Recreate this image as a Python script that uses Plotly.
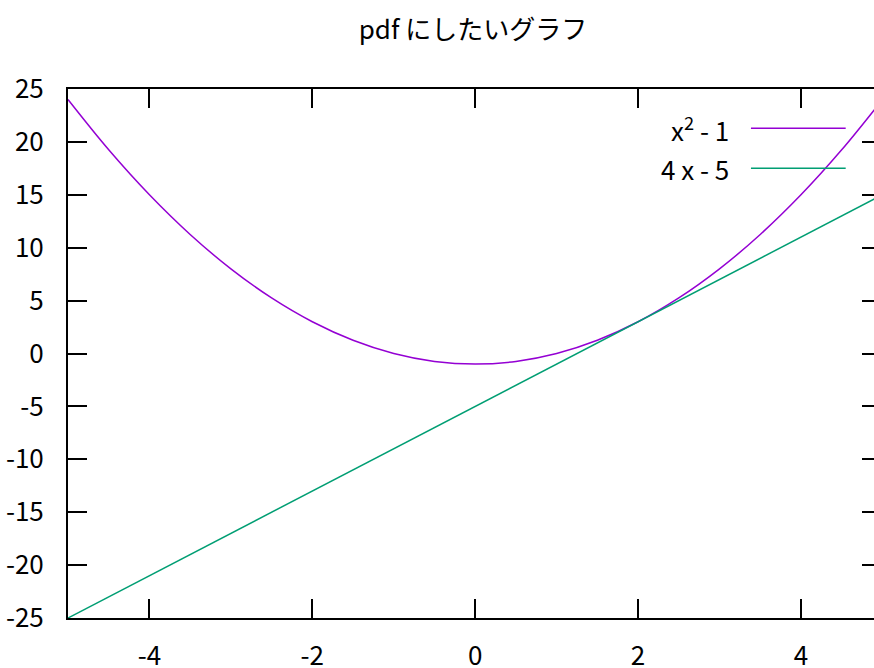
import plotly.graph_objects as go

# ---- data ----
x_parab = [-5, -4.5, -4, -3.5, -3, -2.5, -2, -1.5, -1, -0.5, 0, 0.5, 1, 1.5, 2, 2.5, 3, 3.5, 4, 4.5, 5]
y_parab = [24, 19.25, 15, 11.25, 8, 5.25, 3, 1.25, 0, -0.75, -1, -0.75, 0, 1.25, 3, 5.25, 8, 11.25, 15, 19.25, 24]
x_line = [-5, 5]
y_line = [-25, 15]
series_names = ["x<sup>2</sup> - 1", "4 x - 5"]
series_colors = ["#9400D3", "#009E73"]
x_ticks = [-4, -2, 0, 2, 4]
y_ticks = [25, 20, 15, 10, 5, 0, -5, -10, -15, -20, -25]
title_text = "pdf にしたいグラフ"

FONT = "Noto Sans CJK JP"
FS = 26
W, H = 874, 668
L, R, T = 68.3, 0, 89
B = H - 618.3
px_per_unit = 81.41
plot_w = W - L - R
plot_h = H - T - B
x_max = -5 + plot_w / px_per_unit


def px_x(p):
    return (p - L) / plot_w


def px_y(p):
    return (H - B - p) / plot_h


fig = go.Figure()
fig.add_trace(go.Scatter(x=x_parab, y=y_parab, mode="lines",
                         line=dict(color=series_colors[0], width=1.5, shape="spline"),
                         showlegend=False, hoverinfo="skip"))
fig.add_trace(go.Scatter(x=x_line, y=y_line, mode="lines",
                         line=dict(color=series_colors[1], width=1.5),
                         showlegend=False, hoverinfo="skip", yaxis="y2"))

# manual gnuplot-style legend
legend_rows_px = [128.3, 168.3]
for name, col, ypx in zip(series_names, series_colors, legend_rows_px):
    yp = px_y(ypx)
    fig.add_annotation(x=px_x(730.7), y=yp, xref="paper", yref="paper", text=name,
                       showarrow=False, xanchor="right", yanchor="middle",
                       font=dict(family=FONT, size=FS, color="black"))
    fig.add_shape(type="line", xref="paper", yref="paper",
                  x0=px_x(751), x1=px_x(845.7), y0=yp, y1=yp,
                  line=dict(color=col, width=1.5))

axis_common = dict(ticks="inside", tickwidth=1.5, tickcolor="black", showgrid=False,
                   zeroline=False, automargin=False)

fig.update_layout(
    template="none",
    width=W, height=H,
    margin=dict(l=L, r=R, t=T, b=B, pad=0, autoexpand=False),
    paper_bgcolor="white", plot_bgcolor="white",
    font=dict(family=FONT, size=FS, color="black"),
    title=dict(text=title_text, x=473 / W, xref="container", xanchor="center",
               y=1 - 30 / H, yref="container", yanchor="middle",
               font=dict(family=FONT, size=FS, color="black")),
    showlegend=False,
    xaxis=dict(range=[-5, x_max], tickvals=x_ticks, ticktext=[str(v) for v in x_ticks],
               ticklen=19, showline=True, linecolor="black", linewidth=2, mirror="ticks",
               ticklabelstandoff=14, tickfont=dict(family=FONT, size=FS, color="black"),
               **axis_common),
    yaxis=dict(range=[-25, 25], tickvals=y_ticks, ticktext=[str(v) for v in y_ticks],
               ticklen=19, showline=True, linecolor="black", linewidth=2, mirror=False,
               ticklabelstandoff=17, tickfont=dict(family=FONT, size=FS, color="black"),
               **axis_common),
    yaxis2=dict(range=[-25, 25], overlaying="y", side="right", tickvals=y_ticks,
                ticklen=12, showticklabels=False, showline=False, **axis_common),
)

fig.write_html("out.html", config={"displayModeBar": False},
               post_script="document.body.style.margin='0';document.body.style.overflow='hidden';")
